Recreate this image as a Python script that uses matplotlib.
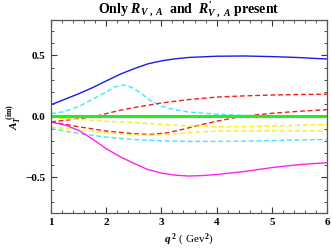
import matplotlib
matplotlib.use("Agg")
import matplotlib.pyplot as plt
from matplotlib.ticker import MultipleLocator

plt.rcParams['font.family'] = ['Liberation Serif', 'DejaVu Serif']
plt.rcParams['font.weight'] = 'bold'
plt.rcParams['mathtext.fontset'] = 'custom'
plt.rcParams['mathtext.rm'] = 'Liberation Serif:bold'
plt.rcParams['mathtext.it'] = 'Liberation Serif:bold:italic'
plt.rcParams['mathtext.bf'] = 'Liberation Serif:bold'

# Data
blue_x = [1.0, 1.25, 1.5, 1.75, 2.0, 2.25, 2.5, 2.75, 3.0, 3.25, 3.5, 4.0, 4.5, 5.0, 5.5, 6.0]
blue_y = [0.096, 0.14, 0.185, 0.235, 0.29, 0.345, 0.39, 0.43, 0.455, 0.472, 0.483, 0.493, 0.495, 0.49, 0.482, 0.47]

cyan1_x = [1.0, 1.25, 1.5, 1.75, 2.0, 2.15, 2.3, 2.45, 2.6, 2.8, 3.0, 3.2, 3.5, 4.0, 4.5, 5.0, 6.0]
cyan1_y = [0.022, 0.04, 0.08, 0.14, 0.2, 0.24, 0.258, 0.24, 0.2, 0.13, 0.085, 0.058, 0.035, 0.018, 0.008, 0.002, -0.003]

red1_x = [1.0, 1.4, 1.8, 2.2, 2.5, 3.0, 3.5, 4.0, 4.5, 5.0, 5.5, 6.0]
red1_y = [-0.045, -0.025, 0.0, 0.045, 0.072, 0.11, 0.138, 0.158, 0.168, 0.175, 0.179, 0.182]

red2_x = [1.0, 1.5, 2.0, 2.5, 2.8, 3.1, 3.4, 3.7, 4.0, 4.45, 5.0, 5.5, 6.0]
red2_y = [-0.045, -0.085, -0.12, -0.142, -0.148, -0.135, -0.105, -0.07, -0.04, 0.0, 0.025, 0.042, 0.055]

yellow1_x = [1.0, 1.5, 2.0, 2.5, 3.0, 3.5, 4.0, 4.5, 5.0, 5.5, 6.0]
yellow1_y = [-0.01, -0.025, -0.04, -0.05, -0.065, -0.078, -0.086, -0.085, -0.08, -0.073, -0.066]

yellow2_x = [1.0, 1.5, 2.0, 2.5, 2.8, 3.2, 3.6, 4.0, 5.0, 6.0]
yellow2_y = [-0.088, -0.11, -0.135, -0.152, -0.155, -0.145, -0.13, -0.12, -0.118, -0.12]

cyan2_x = [1.0, 1.5, 2.0, 2.5, 3.0, 3.5, 4.0, 4.5, 5.0, 5.5, 6.0]
cyan2_y = [-0.10, -0.14, -0.17, -0.19, -0.2, -0.205, -0.205, -0.203, -0.198, -0.193, -0.189]

magenta_x = [1.0, 1.25, 1.5, 1.75, 2.0, 2.25, 2.5, 2.75, 3.0, 3.25, 3.5, 3.75, 4.0, 4.5, 5.0, 5.5, 6.0]
magenta_y = [-0.047, -0.07, -0.115, -0.185, -0.265, -0.33, -0.385, -0.435, -0.465, -0.482, -0.489, -0.485, -0.477, -0.452, -0.42, -0.395, -0.38]

green_x = [1.0, 6.0]
green_y = [0.0, 0.0]

fig = plt.figure(figsize=(3.32, 2.5), dpi=100)
ax = fig.add_axes([0.1536, 0.149, 0.8314, 0.771])

dash = (0, (3.5, 2.0))
ax.plot(cyan1_x, cyan1_y, color='#40e8f0', lw=1.0, ls=dash)
ax.plot(red1_x, red1_y, color='#ee2020', lw=1.0, ls=dash)
ax.plot(red2_x, red2_y, color='#ee2020', lw=1.0, ls=dash)
ax.plot(yellow1_x, yellow1_y, color='#f5f020', lw=1.0, ls=dash)
ax.plot(yellow2_x, yellow2_y, color='#f5f020', lw=1.0, ls=dash)
ax.plot(cyan2_x, cyan2_y, color='#40e8f0', lw=1.0, ls=dash)
ax.plot(green_x, green_y, color='#22ee22', lw=2.2)
ax.plot(blue_x, blue_y, color='#1a1aee', lw=1.0)
ax.plot(magenta_x, magenta_y, color='#ff22ee', lw=1.0)

ax.set_xlim(1, 6)
ax.set_ylim(-0.79, 0.79)
ax.xaxis.set_major_locator(MultipleLocator(1))
ax.xaxis.set_minor_locator(MultipleLocator(0.2))
ax.yaxis.set_major_locator(MultipleLocator(0.5))
ax.yaxis.set_minor_locator(MultipleLocator(0.1))
ax.tick_params(which='both', direction='in', top=True, right=True, color='#333333')
ax.tick_params(which='major', length=4, width=0.8, labelsize=8, pad=4)
ax.tick_params(which='minor', length=2, width=0.6)
ax.set_xticks([1, 2, 3, 4, 5, 6])
ax.set_xticklabels(['1', '2', '3', '4', '5', '6'])
ax.set_yticks([-0.5, 0.0, 0.5])
ax.set_yticklabels(['\u22120.5', '0.0', '0.5'])
for s in ax.spines.values():
    s.set_color('#555555')
    s.set_linewidth(0.9)

ax.set_xlabel(r'$q^{\ 2}$ ( Gev$^2$)', fontsize=8, labelpad=3)
ax.set_ylabel(r'$A_T^{\ (\mathrm{im})}$', fontsize=8, labelpad=2)
ax.set_title(r"Only $R_{V\ ,\ A}$  and  $R^{\prime}_{V\ ,\ A}$ present", fontsize=10, fontweight='bold', pad=4)

fig.savefig('out.png', dpi=100)
